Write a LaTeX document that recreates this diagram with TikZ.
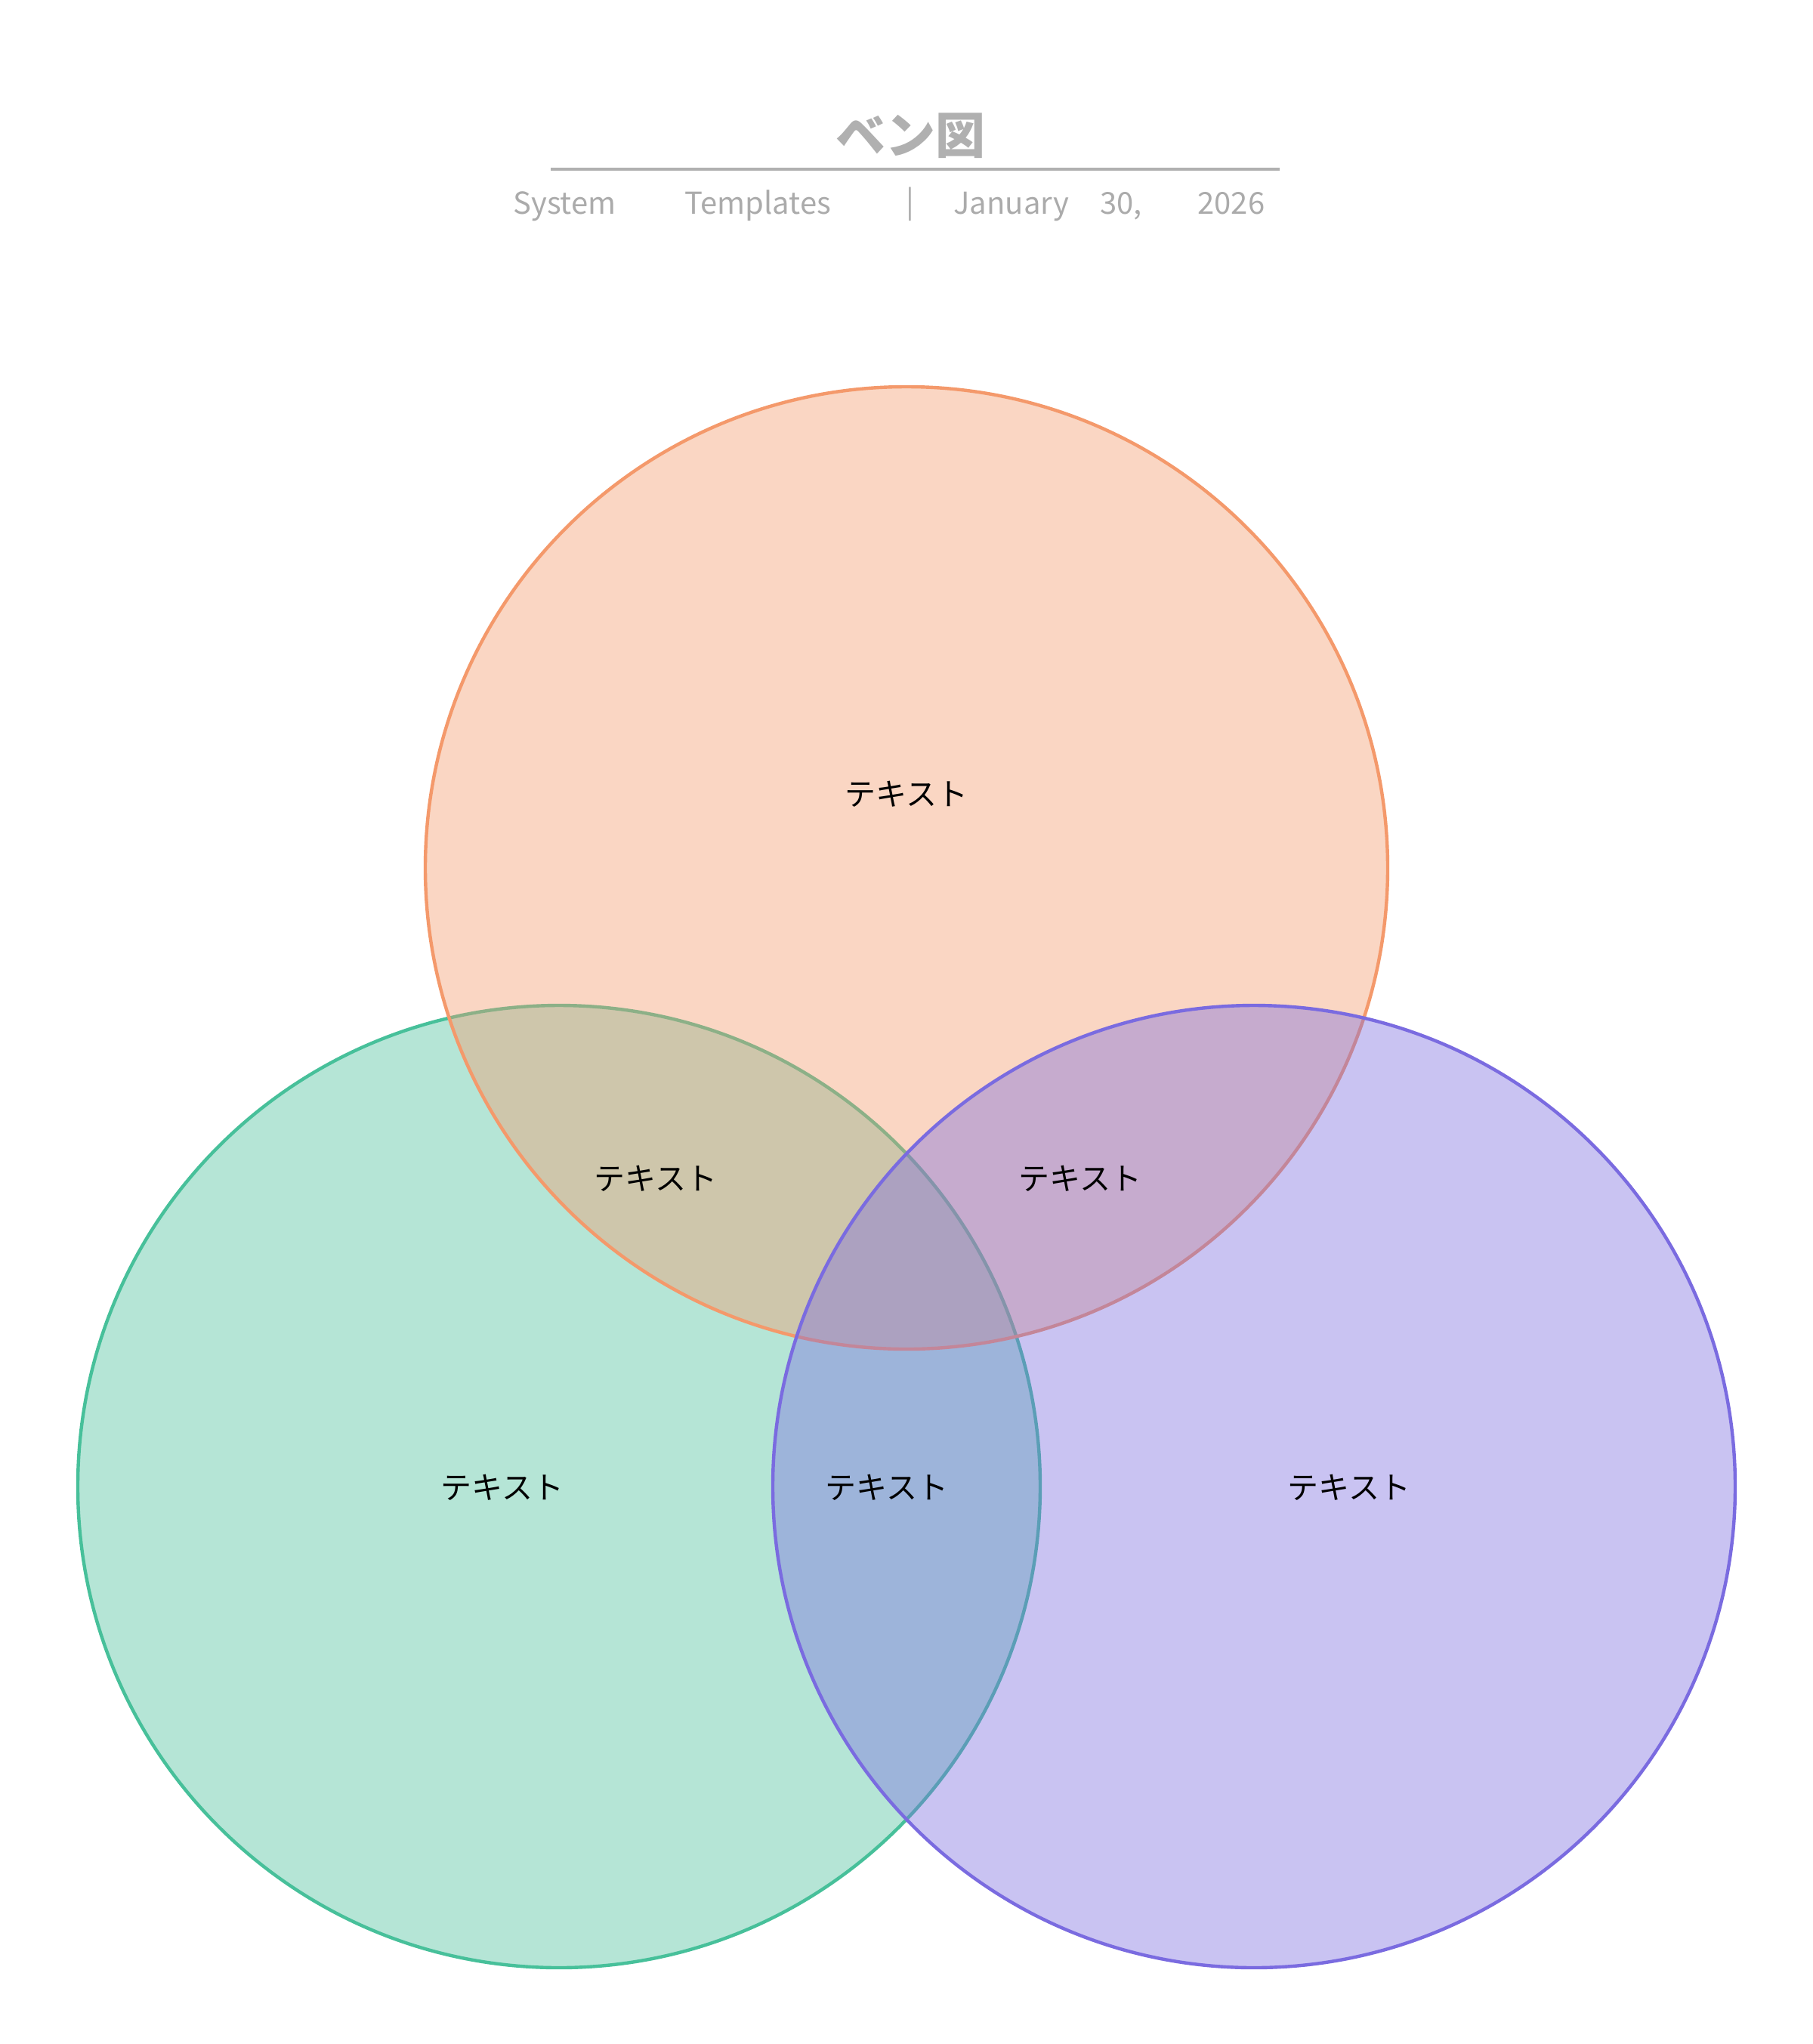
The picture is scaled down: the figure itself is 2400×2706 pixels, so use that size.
\documentclass[tikz,border=0pt]{standalone}
\usepackage{fontspec}
\newfontfamily\jp{Noto Sans CJK JP}
\definecolor{orangeC}{HTML}{F4996B}
\definecolor{greenC}{HTML}{47C09A}
\definecolor{purpleC}{HTML}{7A6BE0}
\definecolor{titleC}{HTML}{B0B0B0}
\definecolor{subC}{HTML}{ABABAB}
\tikzset{
  venn/.style={line width=2.2pt, fill opacity=0.4, draw opacity=1},
  lbl/.style={font=\jp\fontsize{20.5}{24}\selectfont, text=black, inner sep=0pt, anchor=center},
  sub/.style={font=\jp\fontsize{20}{24}\selectfont, text=subC, inner sep=0pt, anchor=base west},
}
\begin{document}
\begin{tikzpicture}[x=0.5pt,y=-0.5pt]
\fill[white] (0,0) rectangle (2400,2706);
\useasboundingbox (0,0) rectangle (2400,2706);
% circles
\coordinate (cg) at (740,1968);
\coordinate (co) at (1200,1149);
\coordinate (cp) at (1660,1968);
\path[venn, draw=greenC, fill=greenC] (cg) circle[radius=318.5pt];
\path[venn, draw=orangeC, fill=orangeC] (co) circle[radius=318.5pt];
\path[venn, draw=purpleC, fill=purpleC] (cp) circle[radius=318.5pt];
% title
\node[font=\jp\bfseries\fontsize{33}{38}\selectfont, text=titleC, inner sep=0pt] (title) at (1205,180) {ベン図};
\coordinate (l1) at (729,224);
\coordinate (l2) at (1694,224);
\draw[titleC, line width=2pt] (l1) -- (l2);
\node[sub] (s1) at (679,283) {System};
\node[sub] (s2) at (906,283) {Templates};
\node[sub, anchor=center] (s3) at (1205,270) {|};
\node[sub] (s4) at (1262,283) {January};
\node[sub] (s5) at (1456,283) {30,};
\node[sub] (s6) at (1585,283) {2026};
% labels
\node[lbl] (t1) at (1200,1051) {テキスト};
\node[lbl] (t2) at (868,1560) {テキスト};
\node[lbl] (t3) at (1430,1560) {テキスト};
\node[lbl] (t4) at (665,1969) {テキスト};
\node[lbl] (t5) at (1174,1969) {テキスト};
\node[lbl] (t6) at (1786,1969) {テキスト};
\end{tikzpicture}
\end{document}
